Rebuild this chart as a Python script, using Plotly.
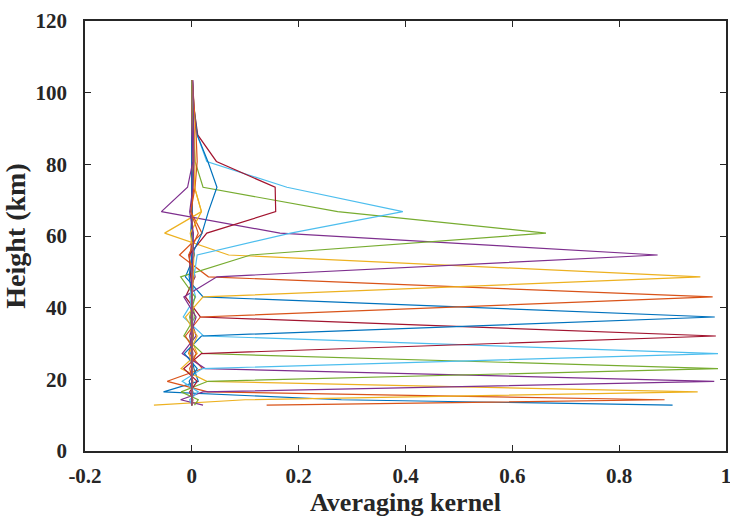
import plotly.graph_objects as go

# Retrieval height levels (km)
heights = [12.8, 14.3, 16.5, 19.45, 23.0, 27.2, 32.1, 37.4, 43.0, 48.6,
           54.7, 60.8, 66.8, 73.6, 80.8, 88.2, 95.8, 103.5]

# Averaging kernel rows (one per retrieval level), values at each height
ak01 = [0.90, 0.28, -0.053, 0.012, 0.004, -0.002, 0.001, 0, 0, 0, 0, 0, 0, 0, 0, 0, 0, 0]
ak02 = [0.14, 0.885, 0.03, -0.046, 0.02, -0.006, 0.003, 0, 0, 0, 0, 0, 0, 0, 0, 0, 0, 0]
ak03 = [-0.071, 0.10, 0.947, 0.028, -0.02, 0.01, -0.004, 0.002, 0, 0, 0, 0, 0, 0, 0, 0, 0, 0]
ak04 = [0.021, -0.021, 0.021, 0.978, 0.025, -0.018, 0.008, -0.003, 0.001, 0, 0, 0, 0, 0, 0, 0, 0, 0]
ak05 = [0.005, 0.012, -0.02, 0.03, 0.985, 0.02, -0.015, 0.006, -0.002, 0, 0, 0, 0, 0, 0, 0, 0, 0]
ak06 = [0.0, -0.004, 0.012, -0.018, 0.02, 0.985, 0.022, -0.016, 0.007, -0.002, 0, 0, 0, 0, 0, 0, 0, 0]
ak07 = [0, 0.002, -0.004, 0.01, -0.015, 0.018, 0.981, 0.016, -0.012, 0.006, -0.002, 0, 0, 0, 0, 0, 0, 0]
ak08 = [0, 0, 0.002, -0.005, 0.01, -0.014, 0.018, 0.979, 0.021, -0.012, 0.005, -0.002, 0, 0, 0, 0, 0, 0]
ak09 = [0, 0, 0, 0.002, -0.004, 0.008, -0.012, 0.016, 0.975, 0.031, -0.023, 0.019, -0.002, 0.004, 0.002, 0.001, 0, 0]
ak10 = [0, 0, 0, 0, 0.002, -0.005, 0.01, -0.012, 0.021, 0.952, 0.069, -0.051, 0.018, 0.005, 0.002, 0.001, 0, 0]
ak11 = [0, 0, 0, 0, 0, 0.002, -0.004, 0.008, -0.015, 0.047, 0.872, 0.165, -0.057, -0.008, 0.002, 0.001, 0.001, 0]
ak12 = [0, 0, 0, 0, 0, 0, 0.002, -0.004, 0.006, -0.021, 0.11, 0.663, 0.273, 0.021, 0.006, 0.003, 0.001, 0]
ak13 = [0, 0, 0, 0, 0, 0, 0, 0.002, -0.004, 0.004, 0.01, 0.185, 0.395, 0.178, 0.028, 0.01, 0.003, 0.001]
ak14 = [0, 0, 0, 0, 0, 0, 0, 0, 0.001, -0.002, -0.005, 0.028, 0.157, 0.156, 0.046, 0.011, 0.004, 0.001]
ak15 = [0, 0, 0, 0, 0, 0, 0, 0, 0.001, -0.005, 0.0, 0.019, 0.031, 0.047, 0.03, 0.01, 0.004, 0.001]
ak16 = [0, 0, 0, 0, 0, 0, 0, 0, 0, 0.003, -0.006, 0.012, -0.002, 0.006, 0.01, 0.008, 0.004, 0.001]
ak17 = [0, 0, 0, 0, 0, 0, 0, 0, 0, 0.002, 0.004, -0.003, 0.018, 0.005, 0.006, 0.005, 0.003, 0.001]
ak18 = [0, 0, 0, 0, 0, 0, 0, 0, 0, 0, 0.002, 0.003, -0.004, 0.002, 0.004, 0.003, 0.002, 0.002]

kernels = [ak01, ak02, ak03, ak04, ak05, ak06, ak07, ak08, ak09,
           ak10, ak11, ak12, ak13, ak14, ak15, ak16, ak17, ak18]

colors = ["#0072BD", "#D95319", "#EDB120", "#7E2F8E", "#77AC30", "#4DBEEE", "#A2142F"]

x_ticks = [-0.2, 0, 0.2, 0.4, 0.6, 0.8, 1]
x_labels = ["-0.2", "0", "0.2", "0.4", "0.6", "0.8", "1"]
y_ticks = [0, 20, 40, 60, 80, 100, 120]
y_labels = ["0", "20", "40", "60", "80", "100", "120"]

fig = go.Figure()
for i, k in enumerate(kernels):
    fig.add_trace(go.Scatter(x=k, y=heights, mode="lines",
                             line=dict(color=colors[i % 7], width=1.2),
                             showlegend=False, hoverinfo="skip"))

axis_common = dict(showline=True, linecolor="#262626", linewidth=1.6, mirror="ticks",
                   ticks="inside", ticklen=6, tickwidth=1.3, tickcolor="#262626",
                   showgrid=False, zeroline=False, automargin=False,
                   ticklabeloverflow="allow",
                   tickfont=dict(family="Liberation Serif", size=21, color="#262626", weight="bold"))

fig.update_layout(
    width=730, height=517,
    margin=dict(l=85, r=4, t=21, b=66),
    paper_bgcolor="white", plot_bgcolor="white",
    font=dict(family="Liberation Serif", color="#262626"),
    xaxis=dict(range=[-0.2, 1], tickvals=x_ticks, ticktext=x_labels,
               ticklabelstandoff=5, **axis_common),
    yaxis=dict(range=[0, 120], tickvals=y_ticks, ticktext=y_labels,
               title=dict(text="Height (km)", standoff=4,
                          font=dict(family="Liberation Serif", size=28, color="#262626", weight="bold")),
               ticklabelstandoff=12, **axis_common),
    annotations=[dict(text="Averaging kernel", xref="paper", yref="paper",
                      x=0.5, y=0, xanchor="center", yanchor="top", yshift=-35,
                      showarrow=False,
                      font=dict(family="Liberation Serif", size=26, color="#262626", weight="bold"))],
)

fig.write_html("out.html")
